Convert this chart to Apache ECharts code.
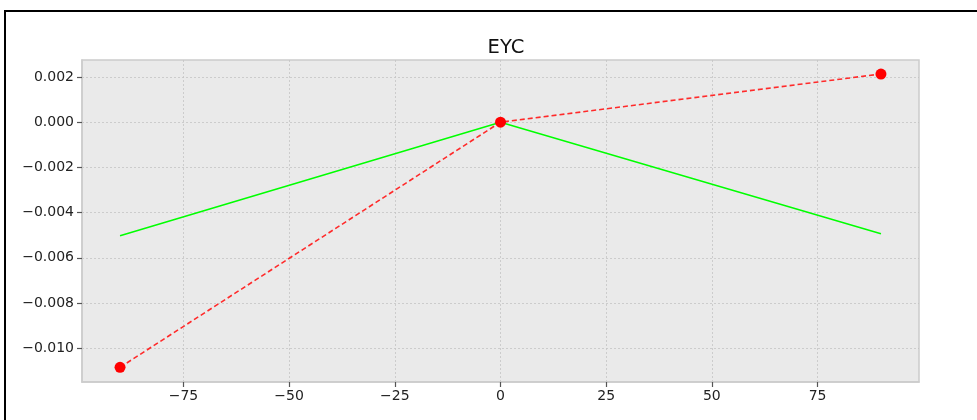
<!DOCTYPE html>
<html>
<head>
<meta charset="utf-8">
<script src="https://cdn.jsdelivr.net/npm/echarts@6/dist/echarts.min.js"></script>
<style>
  html, body { margin: 0; padding: 0; background: #fff; overflow: hidden; }
  #chart { position: absolute; left: 0; top: 0; width: 977px; height: 420px; }
  #frame {
    position: absolute; left: 4px; top: 10px; width: 1200px; height: 600px;
    border-left: 2px solid #000; border-top: 2px solid #000; pointer-events: none;
  }
</style>
</head>
<body>
<div id="chart"></div>
<div id="frame"></div>
<script>
// angles on x axis
const xValues = [-90, 0, 90];
// red dashed series with markers
const redValues = [-0.01084, 0.0, 0.00213];
// green solid series
const greenValues = [-0.00502, 0.0, -0.00493];

const xTicks = [-75, -50, -25, 0, 25, 50, 75];
const yTicks = [-0.010, -0.008, -0.006, -0.004, -0.002, 0.000, 0.002];

const fmtY = v => (v < 0 ? "\u2212" : "") + Math.abs(v).toFixed(3);
const fmtX = v => (v < 0 ? "\u2212" : "") + Math.abs(v);

const pairs = vals => xValues.map((x, i) => [x, vals[i]]);

const chart = echarts.init(document.getElementById("chart"), null, { renderer: "canvas" });

const axisBase = {
  type: "value",
  axisLine: { show: true, onZero: false, lineStyle: { color: "#cccccc", width: 1.5 } },
  splitLine: {
    show: true,
    lineStyle: { color: "#c4c4c4", type: [2, 2], width: 0.8 }
  }
};

const tickStyle = ticks => ({
  show: true,
  length: 5,
  lineStyle: { color: "#555", width: 1.2 },
  customValues: ticks
});

const option = {
  animation: false,
  backgroundColor: "#ffffff",
  title: {
    text: "EYC",
    left: 501,
    top: 33,
    textAlign: "center",
    textStyle: {
      fontFamily: "DejaVu Sans",
      fontSize: 19.5,
      fontWeight: "normal",
      color: "#111"
    }
  },
  grid: {
    left: 82,
    top: 60,
    right: 58,
    bottom: 38,
    show: true,
    backgroundColor: "#eaeaea",
    borderColor: "#cccccc",
    borderWidth: 1.5,
    containLabel: false,
    outerBoundsMode: "none"
  },
  xAxis: {
    ...axisBase,
    min: -99,
    max: 99,
    axisTick: tickStyle(xTicks),
    axisLabel: {
      customValues: xTicks,
      formatter: fmtX,
      fontFamily: "DejaVu Sans",
      fontSize: 14,
      color: "#222",
      margin: 7
    }
  },
  yAxis: {
    ...axisBase,
    min: -0.01149,
    max: 0.00275,
    axisTick: tickStyle(yTicks),
    axisLabel: {
      customValues: yTicks,
      formatter: fmtY,
      fontFamily: "DejaVu Sans",
      fontSize: 14,
      color: "#222",
      margin: 8
    }
  },
  series: [
    {
      type: "line",
      data: pairs(redValues),
      symbol: "circle",
      symbolSize: 11,
      itemStyle: { color: "#ff0000" },
      lineStyle: { color: "#ff2a2a", width: 1.6, type: [5, 3] }
    },
    {
      type: "line",
      data: pairs(greenValues),
      symbol: "none",
      z: 3,
      lineStyle: { color: "#00ff00", width: 1.5 }
    }
  ]
};

chart.setOption(option);
</script>
</body>
</html>
